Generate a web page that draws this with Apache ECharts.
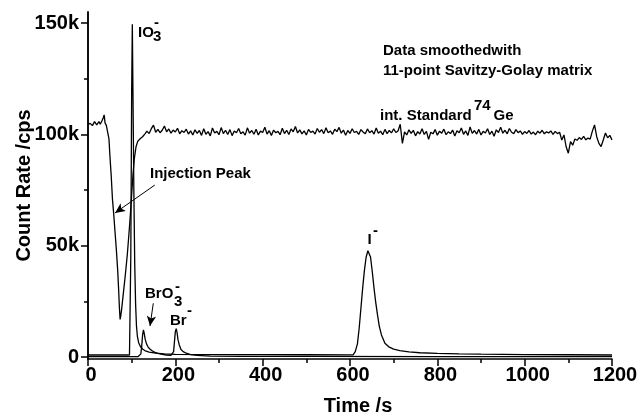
<!DOCTYPE html>
<html><head><meta charset="utf-8">
<script src="https://cdn.jsdelivr.net/npm/echarts@6/dist/echarts.min.js"></script>
<style>html,body{margin:0;padding:0;background:#fff}#c{width:642px;height:414px}</style>
</head><body><div id="c"></div>
<script>
// ---------- data ----------
const xTickValues = [0, 200, 400, 600, 800, 1000, 1200];
const yTickValues = [0, 50000, 100000, 150000];
const yMinorTickValues = [25000, 75000, 125000];

// 74Ge internal standard: injection dip (irregular times)
const geHeadT = [0,5,10,15,20,25,28,32,35,37,39,42,46,48,50,53,56,59,62,65,68,70,72,73.5,75,77,80,85,90,94,97,100,103,106,110,114,120,125];
const geHeadV = [104500,105000,104000,105800,104300,105800,104600,106200,107500,108800,105200,104100,103600,98000,91000,82000,71000,64000,56000,48000,39000,31000,22000,17000,18500,21500,27000,36000,46000,56000,64000,73000,82000,89000,94500,97000,98200,99000];
// 74Ge plateau, read every 5 s from 130 s to 1200 s
const geNoiseStart = 130, geNoiseStep = 5;
const geNoiseV = [
 100200,101500,100400,102600,104200,101000,102300,100800,101900,103800,101200,102500,100600,102000, // 130-195
 101100,102800,100300,101700,100900,102400,100200,101600,99800,102100,100500,101800,99600,102600,100100,101300,99400,102900,100700,101400, // 200-295
 99900,103100,100400,101900,100000,102200,99500,101600,100800,102700,100300,101200,99700,103000,100600,101800,100100,102400,99800,101500, // 300-395
 100900,103300,100200,101700,99600,102000,100800,101400,99900,102800,100400,101900,100000,102500,101200,103600,100700,102100,100300,101600, // 400-495
 99800,102300,100900,101500,100200,102700,101000,102200,100400,103000,100800,101600,100100,102400,101300,103200,100600,102000,99700,101800, // 500-595
 100500,102600,100900,101400,100000,102200,101100,100300,102500,100800,101700,100200,102900,100600,101500,99900,102300,100400,101800,100700, // 600-695
 102600,100900,101600,104600,96000,101200,99800,102100,100500,101900,99400,101300,100200,102600,100000,101400,97800,101000,100300,102200, // 700-795
 99700,101500,100600,102400,99900,101200,100400,102000,99300,101700,100800,102900,100100,101600,99600,103400,100500,101800,100200,102300, // 800-895
 99800,101400,100700,102600,100000,101500,99200,102100,100900,103300,100600,101900,100300,102700,101000,100400,102200,100800,101600,100100, // 900-995
 101300,100500,101800,100200,101100,99900,101500,100600,101900,100300,101200,100700,101600,100000,101400,100400,101000,97500,99800,94500, // 1000-1095
 91600,96800,95200,98000,97400,98600,97800,99200,97600,98400,97900,101500,104300,99000,96000,94600,97500,100700,98500,99600, // 1100-1195
 97600 // 1200
];

// 127I channel (IO3- and I-)
const iT = [0,90,95,96.5,98,100,101.5,103,105,107,109,111,113,116,120,125,130,140,155,175,200,300,400,500,600,607,612,617,621,625,629,633,637,641,644,647,651,655,659,663,667,672,680,690,700,714,735,760,800,850,900,1000,1100,1200];
const iV = [1000,1000,950,1500,45000,120000,149500,118000,75000,42000,24000,14000,9500,6500,4800,3700,3000,2300,1800,1500,1300,1200,1150,1100,1050,1100,2500,6000,13000,22000,31000,39000,45000,47800,47400,45000,38500,31000,24500,19000,14000,10000,6300,4500,3600,3000,2400,2000,1700,1500,1350,1200,1100,1000];

// Br channel (BrO3- and Br-)
const brT = [0,115,119,121,123,125,127,129,131,134,137,141,146,152,160,170,180,190,194,196,198,200,202,204,206,209,213,218,225,235,250,280,350,500,800,1200];
const brV = [300,300,500,1500,5000,10000,12300,10500,8000,6000,4800,3800,3000,2300,1700,1300,1000,800,900,2500,7000,11500,12800,11000,8000,5500,3500,2500,1800,1200,800,500,400,350,300,300];

// arrows (data coordinates: start, tip)
const arrowInjection = [[153, 77300], [62, 64800]];
const arrowBrO3 = [[149.5, 24200], [142, 14000]];

// ---------- chart ----------
const FONT = '"Liberation Sans", Arial, Helvetica, sans-serif';
const pairs = (t, v) => t.map((x, i) => [x, v[i]]);
const geData = pairs(geHeadT, geHeadV).concat(geNoiseV.map((v, i) => [geNoiseStart + i * geNoiseStep, v]));
const chart = echarts.init(document.getElementById('c'), null, {renderer: 'canvas'});
const lineSeries = (name, data, extra) => Object.assign({
  name, type: 'line', data, showSymbol: false, symbol: 'none', smooth: false,
  lineStyle: {color: '#000', width: 1.3}, emphasis: {disabled: true}, animation: false, silent: true
}, extra || {});
const black = {color: '#000', width: 1.5};

const annotations = [
  {t: 'IO', x: 138, y: 32.5}, {t: '3', x: 153, y: 37}, {t: '-', x: 154, y: 22.5},
  {t: 'Data smoothedwith', x: 383, y: 51},
  {t: '11-point Savitzy-Golay matrix', x: 383, y: 71},
  {t: 'int. Standard', x: 380, y: 116}, {t: '74', x: 474, y: 105.5}, {t: 'Ge', x: 493.5, y: 116},
  {t: 'Injection Peak', x: 150, y: 174},
  {t: 'BrO', x: 145, y: 294}, {t: '3', x: 174, y: 301.5}, {t: '-', x: 175, y: 286.5},
  {t: 'Br', x: 170, y: 321}, {t: '-', x: 187, y: 310.5},
  {t: 'I', x: 367.5, y: 240}, {t: '-', x: 373, y: 230.5}
];

chart.setOption({
  animation: false,
  backgroundColor: '#fff',
  textStyle: {fontFamily: FONT},
  grid: {left: 88, right: 30, top: 12, bottom: 55, containLabel: false, outerBoundsMode: 'none'},
  xAxis: {
    type: 'value', min: 0, max: 1200, interval: 200,
    name: 'Time /s', nameLocation: 'middle', nameGap: 37, nameMoveOverlap: false,
    nameTextStyle: {fontSize: 20, fontWeight: 'bold', color: '#000', fontFamily: FONT, padding: [0, 0, 0, 16]},
    axisLine: {onZero: false, lineStyle: black},
    axisTick: {inside: false, length: 7, lineStyle: black},
    minorTick: {show: true, splitNumber: 2, length: 4, lineStyle: black},
    axisLabel: {fontSize: 20, fontWeight: 'bold', color: '#000', fontFamily: FONT, margin: 6, padding: [0, 0, 0, 6],
      formatter: v => String(v)},
    splitLine: {show: false}, minorSplitLine: {show: false}
  },
  yAxis: [{
    type: 'value', min: -800, max: 155000,
    name: 'Count Rate /cps', nameLocation: 'middle', nameGap: 54, nameRotate: 90, nameMoveOverlap: false,
    nameTextStyle: {fontSize: 20, fontWeight: 'bold', color: '#000', fontFamily: FONT},
    axisLine: {onZero: false, lineStyle: black},
    axisTick: {inside: false, length: 7, lineStyle: black, customValues: yTickValues},
    axisLabel: {fontSize: 20, fontWeight: 'bold', color: '#000', fontFamily: FONT, margin: 9,
      customValues: yTickValues, formatter: v => v === 0 ? '0' : (v / 1000) + 'k'},
    splitLine: {show: false}
  }, {
    type: 'value', min: -800, max: 155000, position: 'left', offset: 0,
    axisLine: {show: true, onZero: false, lineStyle: black},
    axisTick: {show: true, inside: false, length: 4, lineStyle: black, customValues: yMinorTickValues},
    axisLabel: {show: false}, splitLine: {show: false}
  }],
  series: [
    lineSeries('74Ge', geData),
    lineSeries('Br', pairs(brT, brV)),
    lineSeries('127I', pairs(iT, iV), {
      markLine: {
        silent: true, animation: false, symbol: ['none', 'arrow'], symbolSize: [7, 10],
        label: {show: false}, emphasis: {disabled: true},
        lineStyle: {color: '#000', width: 1, type: 'solid'},
        data: [
          [{coord: arrowInjection[0]}, {coord: arrowInjection[1]}],
          [{coord: arrowBrO3[0]}, {coord: arrowBrO3[1]}]
        ]
      }
    })
  ],
  graphic: annotations.map(a => ({
    type: 'text', silent: true, z: 100,
    style: {text: a.t, x: a.x, y: a.y, fill: '#000', font: 'bold 15px ' + FONT, textAlign: 'left', textVerticalAlign: 'middle'}
  }))
});
</script>
</body></html>
